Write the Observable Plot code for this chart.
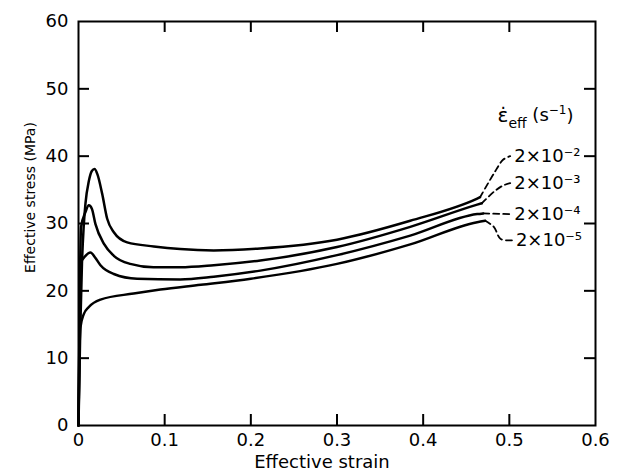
<!DOCTYPE html>
<html><head><meta charset="utf-8">
<script src="https://cdn.jsdelivr.net/npm/d3@7"></script>
<script src="https://cdn.jsdelivr.net/npm/@observablehq/plot@0.6"></script>
<style>body{margin:0;background:#fff;}</style>
</head><body><div id="chart"></div>
<script>
// Strain-rate series labels
const rates = ["2×10⁻²", "2×10⁻³", "2×10⁻⁴", "2×10⁻⁵"];

// Curve 2x10^-2
const strainA = [0, 0.002, 0.004, 0.006, 0.0081, 0.012, 0.0155, 0.0186, 0.022, 0.0275, 0.0333, 0.041, 0.0565, 0.0874, 0.118, 0.157, 0.211, 0.30, 0.385, 0.4627, 0.466];
const stressA = [0, 14, 24, 29.5, 33, 36.3, 37.8, 38.1, 37.3, 34.4, 30.7, 28.7, 27.2, 26.6, 26.2, 26.0, 26.3, 27.6, 30.4, 33.7, 33.9];
// Curve 2x10^-3
const strainB = [0, 0.0015, 0.003, 0.0081, 0.012, 0.0155, 0.0197, 0.0294, 0.041, 0.060, 0.087, 0.118, 0.157, 0.211, 0.30, 0.385, 0.4627, 0.468];
const stressB = [0, 20, 29.5, 31.7, 32.7, 32.2, 29.9, 27.0, 25.2, 24.0, 23.5, 23.5, 23.8, 24.5, 26.5, 29.5, 32.8, 33.0];
// Curve 2x10^-4
const strainC = [0, 0.0015, 0.0023, 0.0081, 0.0139, 0.019, 0.0255, 0.041, 0.068, 0.118, 0.157, 0.211, 0.30, 0.385, 0.4627, 0.4697];
const stressC = [0, 18, 24.0, 25.2, 25.7, 25.0, 23.8, 22.5, 21.8, 21.7, 22.1, 23.0, 25.3, 28.2, 31.4, 31.5];
// Curve 2x10^-5
const strainD = [0, 0.001, 0.0023, 0.006, 0.012, 0.0255, 0.064, 0.095, 0.142, 0.2, 0.30, 0.385, 0.4627, 0.472];
const stressD = [0, 10, 14.6, 16.5, 17.6, 18.7, 19.6, 20.2, 20.9, 21.8, 24.0, 26.9, 30.2, 30.4];

// Dashed leader lines from curve ends to labels
const leadStrainA = [0.466, 0.482, 0.493, 0.501];
const leadStressA = [33.9, 37.4, 39.5, 40.0];
const leadStrainB = [0.468, 0.482, 0.492, 0.501];
const leadStressB = [33.0, 34.7, 35.6, 36.0];
const leadStrainC = [0.4697, 0.501];
const leadStressC = [31.5, 31.4];
const leadStrainD = [0.472, 0.482, 0.490, 0.503];
const leadStressD = [30.4, 29.5, 27.7, 27.5];

// Ticks
const xTickLabels = [0, 0.1, 0.2, 0.3, 0.4, 0.5, 0.6];
const yTickLabels = [0, 10, 20, 30, 40, 50, 60];
const xTicksInner = [0.1, 0.2, 0.3, 0.4, 0.5];
const yTicksInner = [10, 20, 30, 40, 50];

const curveSets = [[strainA, stressA], [strainB, stressB], [strainC, stressC], [strainD, stressD]];
const leadSets = [[leadStrainA, leadStressA], [leadStrainB, leadStressB], [leadStrainC, leadStressC], [leadStrainD, leadStressD]];

const curves = curveSets.flatMap(([xs, ys], i) => xs.map((x, j) => ({rate: rates[i], strain: x, stress: ys[j]})));
const leaders = leadSets.flatMap(([xs, ys], i) => xs.map((x, j) => ({rate: rates[i], strain: x, stress: ys[j]})));
const labelRows = leadSets.map(([xs, ys], i) => ({rate: rates[i], strain: xs[xs.length - 1], stress: ys[ys.length - 1]}));

const W = 618, H = 474, mL = 78, mR = 23, mT = 21, mB = 49;
const innerW = W - mL - mR, innerH = H - mT - mB;
const TK = 11;

const chart = Plot.plot({
  width: W, height: H,
  marginLeft: mL, marginRight: mR, marginTop: mT, marginBottom: mB,
  style: {fontFamily: "DejaVu Sans", fontSize: "18px", color: "#000", background: "#fff", overflow: "visible"},
  x: {domain: [0, 0.6]},
  y: {domain: [0, 60]},
  marks: [
    Plot.ruleX(xTicksInner, {x: d => d, insetTop: innerH - TK, strokeWidth: 2}),
    Plot.ruleX(xTicksInner, {x: d => d, insetBottom: innerH - TK, strokeWidth: 2}),
    Plot.ruleY(yTicksInner, {y: d => d, insetRight: innerW - TK, strokeWidth: 2}),
    Plot.ruleY(yTicksInner, {y: d => d, insetLeft: innerW - TK, strokeWidth: 2}),
    Plot.frame({strokeWidth: 2}),
    Plot.axisX(xTickLabels, {tickSize: 0, tickPadding: 8, tickFormat: d => String(d), label: null, fontSize: 18}),
    Plot.axisY(yTickLabels, {tickSize: 0, tickPadding: 10, tickFormat: d => String(d), label: null, fontSize: 18}),
    Plot.line(curves, {x: "strain", y: "stress", z: "rate", curve: "monotone-x", strokeWidth: 2.5}),
    Plot.line(leaders, {x: "strain", y: "stress", z: "rate", curve: "catmull-rom", strokeWidth: 1.8, strokeDasharray: "6,4"}),
    Plot.text(labelRows, {x: "strain", y: "stress", text: "rate", textAnchor: "start", dx: 4, fontSize: 18}),
    Plot.text(["__TITLE__"], {frameAnchor: "top-right", textAnchor: "end", dx: -22, dy: 88, fontSize: 18}),
    Plot.text(["Effective strain"], {frameAnchor: "bottom", textAnchor: "middle", lineAnchor: "middle", dx: -15, dy: 37, fontSize: 18}),
    Plot.text(["Effective stress (MPa)"], {frameAnchor: "left", textAnchor: "middle", lineAnchor: "middle", rotate: -90, dx: -48, dy: -26, fontSize: 14})
  ]
});

d3.select(chart).selectAll("text").filter(function() { return this.textContent === "__TITLE__"; }).each(function() {
  const t = d3.select(this);
  t.text(null);
  t.append("tspan").attr("font-size", 20).text("ε̇");
  t.append("tspan").attr("font-size", 14).attr("dy", "0.4em").text("eff");
  t.append("tspan").attr("dy", "-0.4em").text(" (s");
  t.append("tspan").attr("font-size", 12).attr("dy", "-0.55em").text("−1");
  t.append("tspan").attr("dy", "0.45em").text(")");
});

document.getElementById("chart").appendChild(chart);
</script>
</body></html>
